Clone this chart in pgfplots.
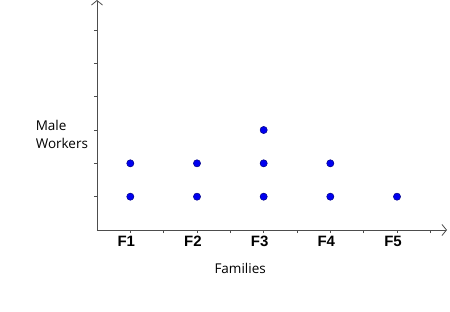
\documentclass[border=0pt]{standalone}
\usepackage{fontspec}
\setmainfont{Open Sans}
\setsansfont{Liberation Sans}
\usepackage{pgfplots}
\pgfplotsset{compat=1.18}
\usetikzlibrary{arrows.meta}
\definecolor{axisgray}{HTML}{4D4D4D}
\definecolor{dotblue}{RGB}{0,0,240}
\begin{document}
\begin{tikzpicture}
\begin{axis}[
  scale only axis, width=350bp, height=230bp,
  xmin=0, xmax=10.5, ymin=0, ymax=6.9,
  axis lines=left,
  axis line style={draw=axisgray, line width=0.8bp, -{Straight Barb[length=4.5bp,width=11bp,line width=0.8bp]}},
  xtick={1,...,10},
  xticklabels={F1,,F2,,F3,,F4,,F5,},
  ytick={1,...,6},
  yticklabels={},
  tick align=outside,
  major tick length=3bp,
  tick style={draw=axisgray, line width=0.6bp},
  xticklabel style={font=\fontsize{15bp}{18bp}\selectfont\sffamily\bfseries, text=black, xshift=-4bp},
  xlabel={Families},
  xlabel style={font=\fontsize{13.5bp}{18bp}\selectfont, at={(axis description cs:0.409,-0.165)}, anchor=center},
  ylabel={Male\\Workers},
  ylabel style={rotate=-90, align=left, font=\fontsize{13.5bp}{18bp}\selectfont, at={(axis description cs:-0.185,0.417)}, anchor=west},
  clip=false,
]
\addplot[only marks, mark=*, mark size=3.6bp,
  mark options={fill=dotblue, draw=dotblue!55!black, line width=0.5bp}]
  coordinates {(1,1)(1,2)(3,1)(3,2)(5,1)(5,2)(5,3)(7,1)(7,2)(9,1)};
\coordinate (bbbl) at (axis cs:-2.91,-2.46);
\coordinate (bbtr) at (axis cs:10.59,6.9);
\end{axis}
\pgfresetboundingbox
\useasboundingbox (bbbl) rectangle (bbtr);
\end{tikzpicture}
\end{document}
